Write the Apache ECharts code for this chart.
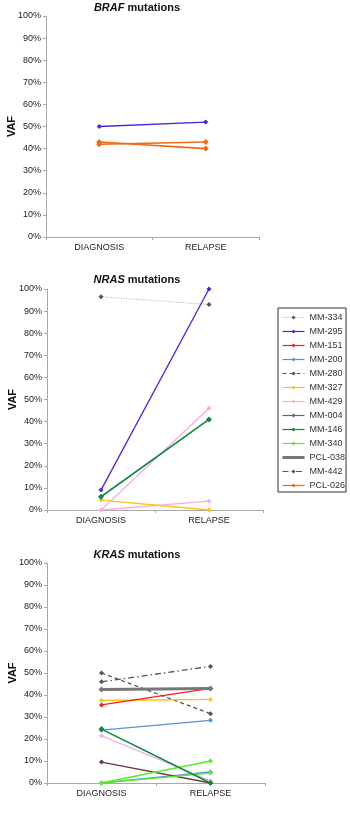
<!DOCTYPE html>
<html>
<head>
<meta charset="utf-8">
<script src="https://cdn.jsdelivr.net/npm/echarts@6/dist/echarts.min.js"></script>
<style>
  html, body { margin: 0; padding: 0; background: #fff; }
  #chart { width: 350px; height: 815px; }
</style>
</head>
<body>
<div id="chart"></div>
<script>
const categories = ['DIAGNOSIS', 'RELAPSE'];
const yTicks = [0, 10, 20, 30, 40, 50, 60, 70, 80, 90, 100];

// BRAF
const brafMM295 = [50, 52];
const brafPCL026a = [42, 43];
const brafPCL026b = [43, 40];

// NRAS
const nrasMM334 = [96.5, 93];
const nrasMM295 = [9, 100];
const nrasMM146 = [6, 41];
const nrasMM327 = [4.5, 0];
const nrasMM429a = [0, 46];
const nrasMM429b = [0, 4];

// KRAS
const krasMM280 = [50, 31.5];
const krasMM442 = [46, 53];
const krasPCL038 = [42.5, 43];
const krasMM151 = [35.5, 43];
const krasMM327 = [37.5, 38];
const krasMM200a = [24, 28.5];
const krasMM200b = [0, 5];
const krasMM146 = [24.5, 0];
const krasMM429 = [21.5, 1];
const krasMM004 = [9.5, 0];
const krasMM340a = [0, 10];
const krasMM340b = [0, 4.5];

const legendNames = ['MM-334', 'MM-295', 'MM-151', 'MM-200', 'MM-280', 'MM-327', 'MM-429',
  'MM-004', 'MM-146', 'MM-340', 'PCL-038', 'MM-442', 'PCL-026'];

// look of each sample
const styles = {
  'MM-334': { color: '#aaaaaa', marker: '#555555', width: 1, type: [1, 1.5] },
  'MM-295': { color: '#4a22e2', width: 1.3 },
  'MM-151': { color: '#ff1a1a', width: 1.3 },
  'MM-200': { color: '#5b8fd6', width: 1.3 },
  'MM-280': { color: '#555555', width: 1.3, type: [4, 3] },
  'MM-327': { color: '#ffc20e', width: 1.3 },
  'MM-429': { color: '#f5aee4', width: 1.3 },
  'MM-004': { color: '#6a3a3a', width: 1.3 },
  'MM-146': { color: '#0b8a3c', width: 1.6 },
  'MM-340': { color: '#55ec30', width: 1.3 },
  'PCL-038': { color: '#777777', width: 3 },
  'MM-442': { color: '#555555', width: 1.3, type: [6, 3, 1.5, 3] },
  'PCL-026': { color: '#ee6a12', width: 1.6 }
};

function line(name, data, idx) {
  const s = styles[name];
  return {
    name: name,
    type: 'line',
    xAxisIndex: idx,
    yAxisIndex: idx,
    data: data,
    symbol: 'diamond',
    symbolSize: name === 'PCL-038' || name === 'MM-146' || name === 'PCL-026' ? 6 : 5,
    itemStyle: { color: s.marker || s.color },
    lineStyle: { color: s.color, width: s.width, type: s.type || 'solid' },
    emphasis: { disabled: true },
    animation: false
  };
}

const grids = [
  { left: 46, right: 91, top: 16, height: 221, outerBoundsMode: 'none' },
  { left: 47, right: 87, top: 289, height: 221, outerBoundsMode: 'none' },
  { left: 47, right: 85, top: 563, height: 220, outerBoundsMode: 'none' }
];

const titleTops = [2, 274, 549];
const titleX = [137, 137, 137];
const genes = ['BRAF', 'NRAS', 'KRAS'];

const axisColor = '#a8a8a8';

const option = {
  backgroundColor: '#fff',
  animation: false,
  textStyle: { fontFamily: '"Liberation Sans", Arial, sans-serif' },
  title: genes.map((g, i) => ({
    text: '{i|' + g + '} mutations',
    left: titleX[i],
    top: titleTops[i],
    textAlign: 'center',
    padding: 0,
    textStyle: {
      fontSize: 11,
      fontWeight: 'bold',
      color: '#111',
      rich: { i: { fontSize: 11, fontWeight: 'bold', fontStyle: 'italic', color: '#111' } }
    }
  })),
  grid: grids,
  xAxis: grids.map((g, i) => ({
    type: 'category',
    gridIndex: i,
    data: categories,
    boundaryGap: true,
    axisLine: { lineStyle: { color: axisColor, width: 1 } },
    axisTick: { show: true, length: 3, lineStyle: { color: axisColor } },
    axisLabel: { fontSize: 9, color: '#222', margin: 6 }
  })),
  yAxis: grids.map((g, i) => ({
    type: 'value',
    gridIndex: i,
    min: yTicks[0],
    max: yTicks[yTicks.length - 1],
    interval: 10,
    name: 'VAF',
    nameLocation: 'middle',
    nameGap: 29,
    nameMoveOverlap: false,
    nameTextStyle: { fontSize: 11, fontWeight: 'bold', color: '#111' },
    axisLine: { show: true, lineStyle: { color: axisColor, width: 1 } },
    axisTick: { show: true, length: 3, lineStyle: { color: axisColor } },
    splitLine: { show: false },
    axisLabel: { fontSize: 9, color: '#222', margin: 5, formatter: '{value}%' }
  })),
  legend: {
    orient: 'vertical',
    left: 278,
    top: 308,
    padding: [5, 1, 2, 3],
    itemWidth: 22,
    itemHeight: 5,
    itemGap: 5,
    borderColor: '#333',
    borderWidth: 1,
    selectedMode: false,
    textStyle: { fontSize: 9, color: '#333' },
    data: legendNames.map(n => ({
      name: n,
      itemStyle: { color: n === 'MM-004' ? '#666' : (styles[n].marker || styles[n].color) },
      lineStyle: {
        color: n === 'MM-004' ? '#666' : styles[n].color,
        width: n === 'PCL-038' ? 3 : 1.2,
        type: styles[n].type || 'solid'
      }
    }))
  },
  series: [
    // BRAF
    line('MM-295', brafMM295, 0),
    line('PCL-026', brafPCL026a, 0),
    line('PCL-026', brafPCL026b, 0),
    // NRAS
    line('MM-334', nrasMM334, 1),
    line('MM-429', nrasMM429a, 1),
    line('MM-429', nrasMM429b, 1),
    line('MM-327', nrasMM327, 1),
    line('MM-146', nrasMM146, 1),
    line('MM-295', nrasMM295, 1),
    // KRAS
    line('MM-280', krasMM280, 2),
    line('MM-442', krasMM442, 2),
    line('MM-327', krasMM327, 2),
    line('MM-151', krasMM151, 2),
    line('PCL-038', krasPCL038, 2),
    line('MM-200', krasMM200a, 2),
    line('MM-200', krasMM200b, 2),
    line('MM-429', krasMM429, 2),
    line('MM-004', krasMM004, 2),
    line('MM-340', krasMM340a, 2),
    line('MM-340', krasMM340b, 2),
    line('MM-146', krasMM146, 2)
  ]
};

const chart = echarts.init(document.getElementById('chart'), null, { renderer: 'canvas' });
chart.setOption(option);
</script>
</body>
</html>
